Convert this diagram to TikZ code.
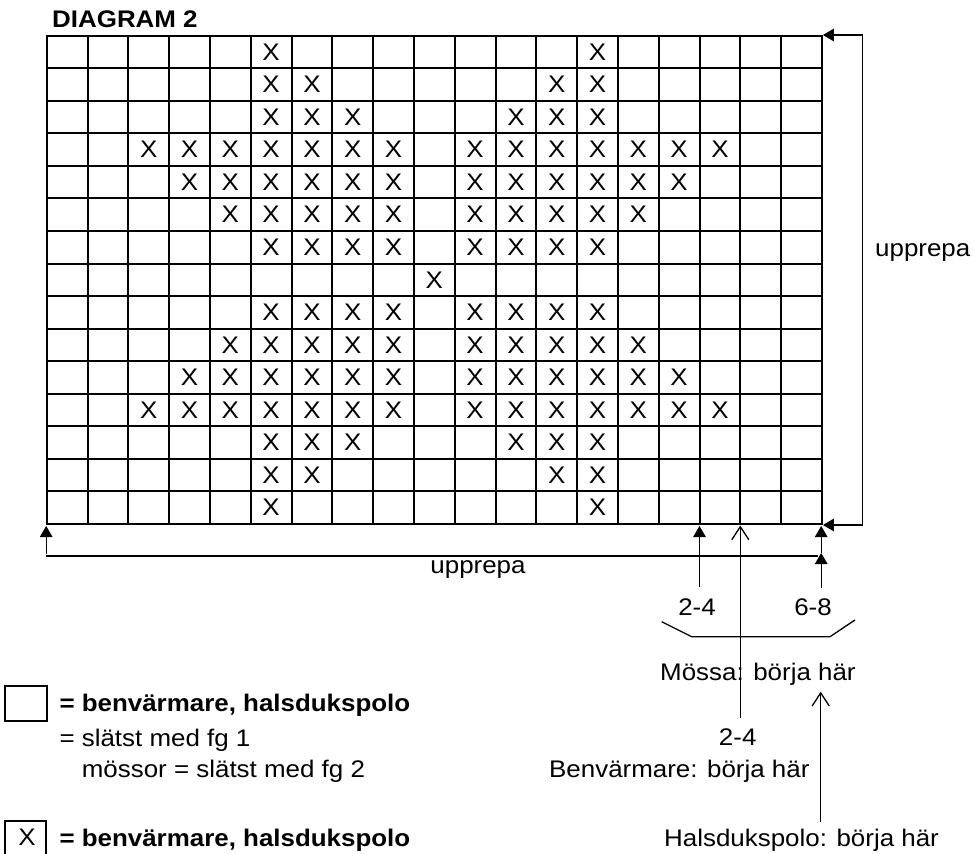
\documentclass[tikz,border=0pt]{standalone}
\usepackage{fontspec}
\setmainfont{Liberation Sans}[FakeStretch=1.08]
\usetikzlibrary{arrows.meta}
\begin{document}
\begin{tikzpicture}[x=1pt,y=-1pt,
  txt/.style={inner sep=0pt, font=\fontsize{24}{28}\selectfont},
  btxt/.style={inner sep=0pt, font=\fontsize{24}{28}\selectfont\bfseries},
  gridline/.style={line width=2pt, line cap=rect},
  xmark/.style={inner sep=0pt, font=\fontsize{24}{28}\selectfont},
  arrline/.style={line width=1.3pt},
  filltip/.style={arrline, -{Triangle[length=11pt,width=12.5pt]}},
  opentip/.style={arrline, -{Straight Barb[length=13pt,width=17pt,line width=1.3pt]}},
  legbox/.style={line width=2pt},
]
\useasboundingbox (0,0) rectangle (975,854);

% grid
\foreach \i in {0,...,19} \draw[gridline] ({46.7+40.8*\i},35.7) -- ({46.7+40.8*\i},524);
\foreach \j in {0,...,15} \draw[gridline] (46.7,{35.7+32.55*\j}) -- (821.9,{35.7+32.55*\j});

% crosses
\foreach \r/\cols in {
  1/{6,14},
  2/{6,7,13,14},
  3/{6,7,8,12,13,14},
  4/{3,4,5,6,7,8,9,11,12,13,14,15,16,17},
  5/{4,5,6,7,8,9,11,12,13,14,15,16},
  6/{5,6,7,8,9,11,12,13,14,15},
  7/{6,7,8,9,11,12,13,14},
  8/{10},
  9/{6,7,8,9,11,12,13,14},
  10/{5,6,7,8,9,11,12,13,14,15},
  11/{4,5,6,7,8,9,11,12,13,14,15,16},
  12/{3,4,5,6,7,8,9,11,12,13,14,15,16,17},
  13/{6,7,8,12,13,14},
  14/{6,7,13,14},
  15/{6,14}}
  \foreach \c in \cols
    \node[xmark] (x\r-\c) at ({46.7+40.8*(\c-0.5)},{35.7+32.55*(\r-0.5)}) {X};

% title
\node[btxt, anchor=base west] (title) at (52,27.3) {DIAGRAM 2};

% right repeat bracket
\coordinate (rTop) at (862.7,35);
\coordinate (rBot) at (862.7,525);
\coordinate (gTR) at (822.9,35);
\coordinate (gBRr) at (822.9,525);
\draw[arrline] (rTop) -- (rBot);
\draw[filltip] (rTop) -- (gTR);
\draw[filltip] (rBot) -- (gBRr);
\node[txt, anchor=base west] (uppR) at (875,256) {upprepa};

% bottom repeat bracket
\coordinate (bL) at (46.2,556);
\coordinate (bR) at (818,556);
\coordinate (gBL) at (46.2,526);
\draw[filltip] ([yshift=2pt]bL) -- (gBL);
\draw[arrline] (bL) -- (bR);
\coordinate (m68) at (821.2,553);
\coordinate (gBR) at (821.2,526);
\draw[filltip] (m68) -- (gBR);
\node[txt, anchor=base] (uppB) at (478,573) {upprepa};

% start markers
\coordinate (s68) at (821.2,588);
\draw[filltip] (s68) -- (m68);
\node[txt, anchor=base] (l68) at (813,615) {6-8};

\coordinate (s24a) at (699.5,587);
\coordinate (t24a) at (699.5,526);
\draw[filltip] (s24a) -- (t24a);
\node[txt, anchor=base] (l24a) at (697,615) {2-4};

\draw[arrline] (661.7,621.7) -- (691.7,636.7) -- (830,636.7) -- (855,620);
\node[txt, anchor=base west] (lmossa) at (660,680) {Mössa: börja här};

\coordinate (s24b) at (740.3,718);
\coordinate (t24b) at (740.3,525.5);
\draw[opentip] (s24b) -- (t24b);
\node[txt, anchor=base] (l24b) at (737.7,745) {2-4};
\node[txt, anchor=base west] (lbenv) at (549,777.3) {Benvärmare: börja här};

\coordinate (sHal) at (820.7,821.7);
\coordinate (tHal) at (820.7,691.7);
\draw[opentip] (sHal) -- (tHal);
\node[txt, anchor=base west] (lhals) at (664,846) {Halsdukspolo: börja här};

% legend
\draw[legbox] (5,685.7) rectangle (47,721);
\node[btxt, anchor=base west] (leg1) at (59.3,711.7) {= benvärmare, halsdukspolo};
\node[txt, anchor=base west] (leg2) at (59.3,746) {= slätst med fg 1};
\node[txt, anchor=base west] (leg3) at (81.7,777.3) {mössor = slätst med fg 2};
\draw[legbox] (5,862) -- (5,821) -- (46,821) -- (46,862);
\node[xmark, anchor=base] (legX) at (27,845) {X};
\node[btxt, anchor=base west] (leg4) at (59.3,846) {= benvärmare, halsdukspolo};
\end{tikzpicture}
\end{document}
